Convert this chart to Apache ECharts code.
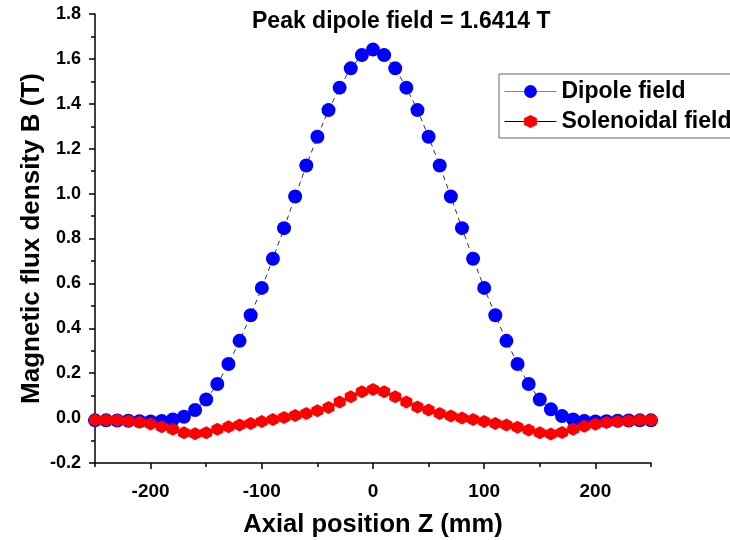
<!DOCTYPE html>
<html>
<head>
<meta charset="utf-8">
<script src="https://cdn.jsdelivr.net/npm/echarts@6/dist/echarts.min.js"></script>
<style>
  html, body { margin: 0; padding: 0; background: #fff; }
  #chart { width: 730px; height: 540px; }
</style>
</head>
<body>
<div id="chart"></div>
<script>
// Axial positions (mm), sampled every 10 mm
const zPositions = [
  -250, -240, -230, -220, -210, -200, -190, -180, -170, -160,
  -150, -140, -130, -120, -110, -100, -90, -80, -70, -60,
  -50, -40, -30, -20, -10, 0, 10, 20, 30, 40,
  50, 60, 70, 80, 90, 100, 110, 120, 130, 140,
  150, 160, 170, 180, 190, 200, 210, 220, 230, 240, 250
];

// Dipole field component B (T)
const dipoleField = [
  -0.010, -0.010, -0.011, -0.012, -0.014, -0.015, -0.013, -0.006, 0.006, 0.036,
  0.083, 0.152, 0.241, 0.344, 0.458, 0.580, 0.710, 0.846, 0.987, 1.125,
  1.253, 1.372, 1.472, 1.558, 1.617, 1.6414, 1.617, 1.558, 1.472, 1.372,
  1.253, 1.125, 0.987, 0.846, 0.710, 0.580, 0.458, 0.344, 0.241, 0.152,
  0.083, 0.039, 0.009, -0.006, -0.013, -0.015, -0.014, -0.012, -0.011, -0.010, -0.010
];

// Solenoidal field component B (T)
const solenoidField = [
  -0.008, -0.008, -0.010, -0.013, -0.018, -0.026, -0.038, -0.050, -0.065, -0.070,
  -0.065, -0.050, -0.038, -0.031, -0.024, -0.015, -0.006, 0.003, 0.012, 0.021,
  0.033, 0.047, 0.072, 0.095, 0.117, 0.127, 0.117, 0.095, 0.072, 0.050,
  0.036, 0.021, 0.009, 0.000, -0.006, -0.015, -0.024, -0.031, -0.041, -0.053,
  -0.065, -0.071, -0.064, -0.050, -0.036, -0.027, -0.020, -0.015, -0.012, -0.009, -0.008
];

// Tick positions on the Z axis
const zMajorTicks = [-200, -100, 0, 100, 200];
const zMinorTicks = [-250, -150, -50, 50, 150, 250];

const peakDipole = Math.max(...dipoleField);

const FONT = '"Liberation Sans", Arial, sans-serif';
const hexagon = 'path://M0,-1 L0.866,-0.5 L0.866,0.5 L0,1 L-0.866,0.5 L-0.866,-0.5 Z';

const pairs = (ys) => zPositions.map((z, i) => [z, ys[i]]);

const chart = echarts.init(document.getElementById('chart'), null, { renderer: 'canvas' });

chart.setOption({
  backgroundColor: '#ffffff',
  animation: false,
  title: {
    text: 'Peak dipole field = ' + peakDipole.toFixed(4) + ' T',
    left: 247,
    top: 5,
    textStyle: { fontFamily: FONT, fontWeight: 'bold', fontSize: 23, color: '#000' }
  },
  legend: {
    orient: 'vertical',
    left: 499,
    top: 74,
    padding: [6, 6, 5, 5],
    itemGap: 7,
    itemWidth: 52,
    itemHeight: 16,
    borderColor: '#666',
    borderWidth: 1,
    textStyle: { fontFamily: FONT, fontWeight: 'bold', fontSize: 23, color: '#000' },
    data: [
      { name: 'Dipole field', lineStyle: { type: 'solid', color: '#888', width: 1 } },
      { name: 'Solenoidal field', lineStyle: { type: 'solid', color: '#000', width: 1 } }
    ]
  },
  grid: { left: 95, right: 79, top: 14, bottom: 77, outerBoundsMode: 'none' },
  xAxis: [
    {
      type: 'value',
      min: -250,
      max: 250,
      name: 'Axial position Z (mm)',
      nameLocation: 'middle',
      nameMoveOverlap: false,
      nameGap: 49,
      nameTextStyle: { fontFamily: FONT, fontWeight: 'bold', fontSize: 25.5, color: '#000' },
      axisLine: { show: true, onZero: false, lineStyle: { color: '#000', width: 1.5 } },
      axisTick: { show: true, customValues: zMajorTicks, length: 6, lineStyle: { color: '#000', width: 1.5 } },
      axisLabel: { customValues: zMajorTicks, fontFamily: FONT, fontWeight: 'bold', fontSize: 19, color: '#000', margin: 19 },
      splitLine: { show: false }
    },
    {
      // minor ticks half-way between the labelled ones
      type: 'value',
      min: -250,
      max: 250,
      position: 'bottom',
      axisLine: { show: false, onZero: false },
      axisTick: { show: true, customValues: zMinorTicks, length: 4, lineStyle: { color: '#000', width: 1.5 } },
      axisLabel: { show: false },
      splitLine: { show: false }
    }
  ],
  yAxis: {
    type: 'value',
    min: -0.2,
    max: 1.8,
    interval: 0.2,
    name: 'Magnetic flux density B (T)',
    nameLocation: 'middle',
    nameMoveOverlap: false,
    nameGap: 50,
    nameTextStyle: { fontFamily: FONT, fontWeight: 'bold', fontSize: 26, color: '#000' },
    axisLine: { show: true, onZero: false, lineStyle: { color: '#000', width: 1.5 } },
    axisTick: { show: true, length: 6, lineStyle: { color: '#000', width: 1.5 } },
    minorTick: { show: true, splitNumber: 2, length: 4, lineStyle: { color: '#000', width: 1.5 } },
    axisLabel: {
      fontFamily: FONT, fontWeight: 'bold', fontSize: 18, color: '#000', margin: 14,
      formatter: (v) => v.toFixed(1)
    },
    splitLine: { show: false }
  },
  series: [
    {
      name: 'Dipole field',
      type: 'line',
      data: pairs(dipoleField),
      symbol: 'circle',
      symbolSize: 14,
      itemStyle: { color: '#0000ff' },
      lineStyle: { color: '#333', width: 1, type: [5, 4] },
      z: 2
    },
    {
      name: 'Solenoidal field',
      type: 'line',
      data: pairs(solenoidField),
      symbol: hexagon,
      symbolSize: [12, 13],
      itemStyle: { color: '#ff0000' },
      lineStyle: { color: '#000', width: 1 },
      z: 3
    }
  ]
});
</script>
</body>
</html>
